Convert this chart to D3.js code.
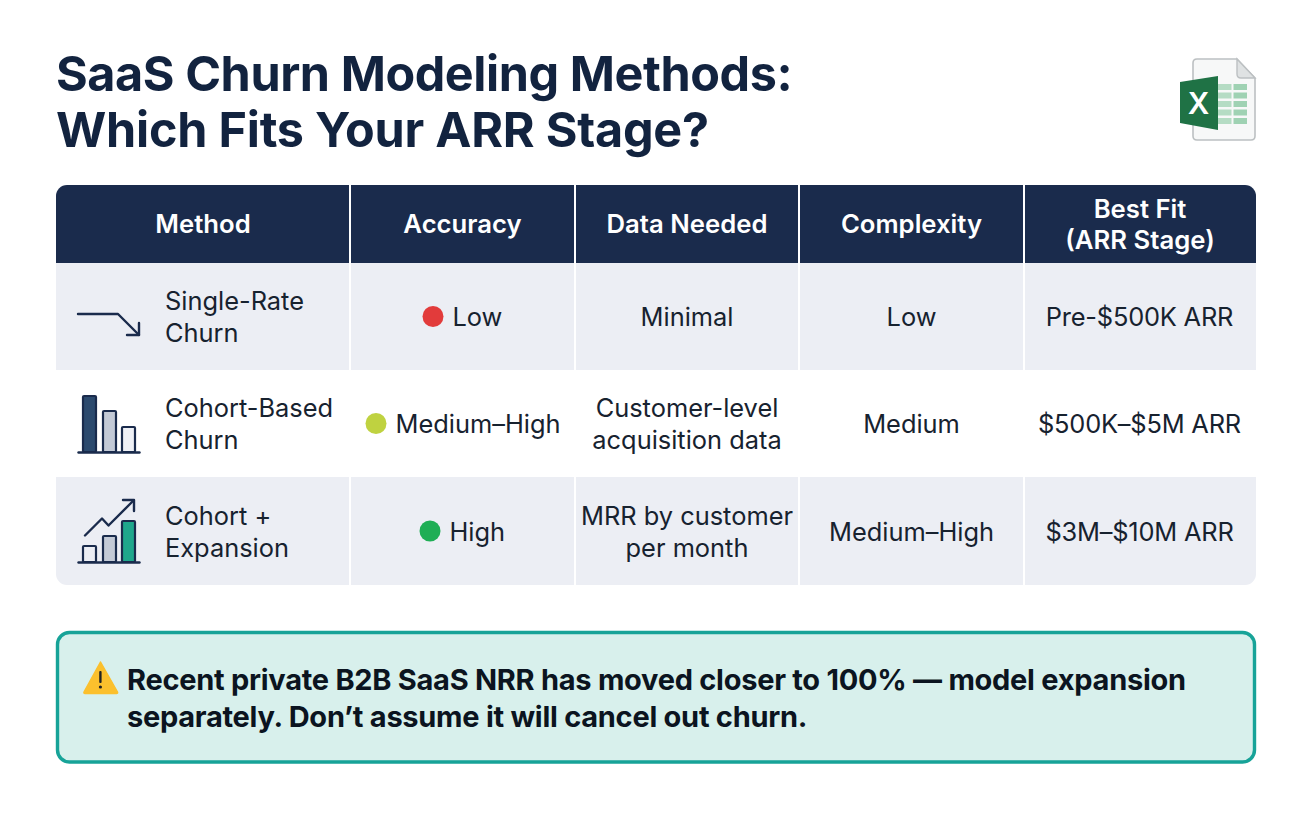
<!DOCTYPE html>
<html>
<head>
<meta charset="utf-8">
<script src="https://cdn.jsdelivr.net/npm/d3@7"></script>
<style>
  html, body { margin: 0; padding: 0; background: #fff; }
  svg { display: block; font-family: Inter, "Noto Sans", sans-serif; }
</style>
</head>
<body>
<script>
const titleLines = ["SaaS Churn Modeling Methods:", "Which Fits Your ARR Stage?"];
const headers = [["Method"], ["Accuracy"], ["Data Needed"], ["Complexity"], ["Best Fit", "(ARR Stage)"]];
const methods = [["Single-Rate", "Churn"], ["Cohort-Based", "Churn"], ["Cohort +", "Expansion"]];
const accuracy = ["Low", "Medium–High", "High"];
const accuracyColors = ["#e23b3b", "#bfd240", "#1fae55"];
const dataNeeded = [["Minimal"], ["Customer-level", "acquisition data"], ["MRR by customer", "per month"]];
const complexity = ["Low", "Medium", "Medium–High"];
const bestFit = ["Pre-$500K ARR", "$500K–$5M ARR", "$3M–$10M ARR"];
const noteLines = ["Recent private B2B SaaS NRR has moved closer to 100% — model expansion", "separately. Don’t assume it will cancel out churn."];

const navy = "#1a2b4c";
const ink = "#17222f";

const svg = d3.select("body").append("svg").attr("width", 1312).attr("height", 816);

// column and row edges of the table
const colEdges = [56, 350, 575, 799, 1024, 1256];
const rowEdges = [263, 370, 477, 585];
const colCenter = (i) => (colEdges[i] + colEdges[i + 1]) / 2;
const rowCenter = (i) => (rowEdges[i] + rowEdges[i + 1]) / 2;

// draws one or more centred lines around y
function lines(g, strs, x, y, lh, anchor) {
  const t = g.append("text").attr("text-anchor", anchor || "middle");
  strs.forEach((s, i) => {
    t.append("tspan")
      .attr("x", x)
      .attr("y", y + (i - (strs.length - 1) / 2) * lh)
      .attr("dy", "0.36em")
      .text(s);
  });
  return t;
}

// title
svg.append("g").selectAll("text").data(titleLines).join("text")
  .attr("x", 56)
  .attr("y", (d, i) => 91 + i * 56)
  .attr("font-size", 48.5)
  .attr("font-weight", 700)
  .attr("letter-spacing", (d, i) => (i === 0 ? -0.43 : -0.23))
  .attr("fill", "#12233f")
  .text((d) => d);

// table backgrounds, clipped to the rounded outline
svg.append("clipPath").attr("id", "tableClip")
  .append("rect").attr("x", 56).attr("y", 185).attr("width", 1200).attr("height", 400).attr("rx", 11);

const table = svg.append("g").attr("clip-path", "url(#tableClip)");
table.append("rect").attr("x", 56).attr("y", 185).attr("width", 1200).attr("height", 78).attr("fill", navy);
table.selectAll("rect.row").data(methods).join("rect")
  .attr("class", "row")
  .attr("x", 56)
  .attr("y", (d, i) => rowEdges[i])
  .attr("width", 1200)
  .attr("height", (d, i) => rowEdges[i + 1] - rowEdges[i])
  .attr("fill", (d, i) => (i % 2 === 0 ? "#eceef4" : "#ffffff"));

// column separators
table.selectAll("line.sep").data(colEdges.slice(1, 5)).join("line")
  .attr("class", "sep")
  .attr("x1", (d) => d).attr("x2", (d) => d)
  .attr("y1", 185).attr("y2", 585)
  .attr("stroke", "#fff").attr("stroke-width", 2);

// header labels
const headG = svg.append("g").attr("fill", "#fff").attr("font-size", 25.7).attr("font-weight", 600);
headers.forEach((h, i) => lines(headG, h, colCenter(i), 224, 31));

// body text
const body = svg.append("g").attr("fill", ink).attr("font-size", 25.4).attr("font-weight", 400);
methods.forEach((m, i) => lines(body, m, 165, rowCenter(i) + 0.5, 32, "start"));
dataNeeded.forEach((d, i) => lines(body, d, colCenter(2), rowCenter(i) + 0.5, 32));
complexity.forEach((d, i) => lines(body, [d], colCenter(3), rowCenter(i) + 0.5, 32));
bestFit.forEach((d, i) => lines(body, [d], colCenter(4) - 0.5, rowCenter(i) + 0.5, 32).attr("letter-spacing", -0.2));

// accuracy: dot plus label, centred together in the column
const dotX = [433, 376, 430];
accuracy.forEach((a, i) => {
  body.append("circle").attr("cx", dotX[i]).attr("cy", rowCenter(i)).attr("r", 10.5).attr("fill", accuracyColors[i]);
  lines(body, [a], dotX[i] + 19.5, rowCenter(i) + 0.5, 32, "start");
});

// row icons
const icons = svg.append("g").attr("fill", "none").attr("stroke", navy).attr("stroke-linecap", "round").attr("stroke-linejoin", "round");

icons.append("path").attr("d", "M78 314H118L139 335").attr("stroke-width", 2.4);
icons.append("path").attr("d", "M127 335H139V323").attr("stroke-width", 2.4);

function bars(list) {
  list.forEach((b) => {
    icons.append("rect")
      .attr("x", b[0]).attr("y", b[1]).attr("width", 13).attr("height", b[2] - b[1])
      .attr("fill", b[3]).attr("stroke-width", 2.2).attr("rx", 1);
  });
}
bars([[83, 396, 452, "#2c4a6e"], [103, 411, 452, "#c3cad6"], [122, 427, 452, "#eef0f5"]]);
icons.append("path").attr("d", "M78.5 452.5H139.5").attr("stroke-width", 2.4);

bars([[83, 546, 562, "#eceef4"], [103, 536, 562, "#c3cad6"], [122, 521, 562, "#1fa78c"]]);
icons.append("path").attr("d", "M78.5 562.5H139.5").attr("stroke-width", 2.4);
icons.append("path").attr("d", "M85 535.500L102 518.500L108.500 525.500L133.500 500.500").attr("stroke-width", 2.4);
icons.append("path").attr("d", "M123 500H134V511").attr("stroke-width", 2.4);

// Excel file icon
const xl = svg.append("g");
xl.append("path")
  .attr("d", "M1197 59H1237L1255 78V136Q1255 140 1251 140H1197Q1193 140 1193 136V63Q1193 59 1197 59Z")
  .attr("fill", "#f7f8f8").attr("stroke", "#bcc0c2").attr("stroke-width", 1.6);
xl.append("path").attr("d", "M1237 59V74Q1237 78 1241 78H1255Z").attr("fill", "#dfe2e3").attr("stroke", "#bcc0c2").attr("stroke-width", 1.4);
[0, 1, 2, 3, 4].forEach((r) => {
  [1218, 1233.5].forEach((x) => {
    xl.append("rect").attr("x", x).attr("y", 84 + r * 8.5).attr("width", 13.5).attr("height", 6)
      .attr("fill", x === 1218 ? "#b5dcc4" : "#9fd2b3");
  });
});
xl.append("path").attr("d", "M1180 82L1218 76V130L1180 123Z").attr("fill", "#1f7245");
xl.append("text").attr("x", 1198.5).attr("y", 114).attr("text-anchor", "middle")
  .attr("font-size", 30).attr("font-weight", 600).attr("fill", "#fff").text("X");

// callout
svg.append("rect")
  .attr("x", 57.5).attr("y", 632.5).attr("width", 1197).attr("height", 129.5).attr("rx", 12)
  .attr("fill", "#d8f0ec").attr("stroke", "#17a398").attr("stroke-width", 3.4);

svg.append("path")
  .attr("d", "M100.500 662L84 692Q83.500 693.500 85 693.500H116.500Q118 693.500 117.500 692Z")
  .attr("fill", "#fbc02d").attr("stroke", "#fbc02d").attr("stroke-width", 1.5).attr("stroke-linejoin", "round");
svg.append("rect").attr("x", 99.2).attr("y", 671).attr("width", 2.4).attr("height", 12).attr("rx", 1).attr("fill", "#222");
svg.append("circle").attr("cx", 100.4).attr("cy", 687).attr("r", 1.6).attr("fill", "#222");

svg.append("g").selectAll("text").data(noteLines).join("text")
  .attr("x", 127)
  .attr("y", (d, i) => 690 + i * 37)
  .attr("font-size", 29)
  .attr("font-weight", 700)
  .attr("letter-spacing", -0.27)
  .attr("fill", "#0b1420")
  .text((d) => d);
</script>
</body>
</html>
